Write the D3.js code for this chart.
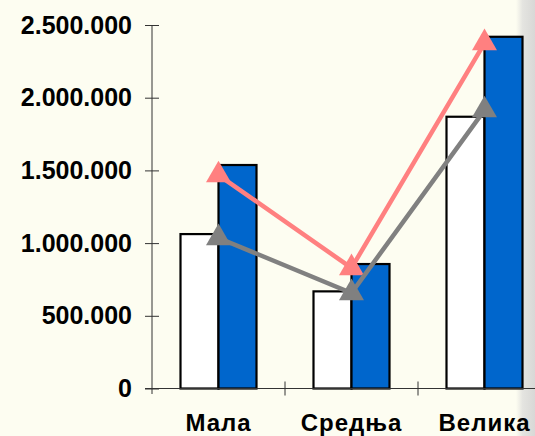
<!DOCTYPE html>
<html>
<head>
<meta charset="utf-8">
<script src="https://cdn.jsdelivr.net/npm/d3@7"></script>
<style>
  html, body { margin: 0; padding: 0; background: #fdfdf1; }
  svg { display: block; }
</style>
</head>
<body>
<div class="chart"></div>
<script>
const categories = ['Мала', 'Средња', 'Велика'];
const whiteBars = [1062000, 668000, 1869000];
const blueBars = [1537000, 856000, 2419000];
const pinkLine = [1468000, 829000, 2376000];
const grayLine = [1035000, 657000, 1915000];
const yTicks = [0, 500000, 1000000, 1500000, 2000000, 2500000];

const width = 535;
const height = 436;

const svg = d3.select('.chart')
    .append('svg')
    .attr('width', width)
    .attr('height', height)
    .style('background', '#fdfdf1');

// textured gray strip on the right edge
const grad = svg.append('defs').append('linearGradient')
    .attr('id', 'edge')
    .attr('x1', 0).attr('x2', 1).attr('y1', 0).attr('y2', 0);
grad.append('stop').attr('offset', '0%').attr('stop-color', '#fdfdf1');
grad.append('stop').attr('offset', '35%').attr('stop-color', '#e4e4e0');
grad.append('stop').attr('offset', '100%').attr('stop-color', '#d8d8d6');
svg.append('rect')
    .attr('x', 516).attr('y', 0)
    .attr('width', 19).attr('height', height)
    .attr('fill', 'url(#edge)');

const x = d3.scaleBand().domain(categories).range([152, 551]);
const xInner = d3.scaleBand().domain(['white', 'blue']).range([0, 76]);
const barOffset = (x.bandwidth() - 76) / 2;
const y = d3.scaleLinear().domain([0, 2500000]).range([388.5, 25]);

const fmt = v => d3.format(',')(v).replace(/,/g, '.');

// y axis
const yAxis = svg.append('g')
    .attr('transform', 'translate(152,0)')
    .call(d3.axisLeft(y).tickValues(yTicks).tickSize(6).tickPadding(14).tickFormat(fmt));
yAxis.select('.domain').remove();
yAxis.selectAll('.tick line').attr('x1', -7).attr('x2', 7).attr('stroke', '#333');
yAxis.append('line')
    .attr('x1', 0).attr('x2', 0)
    .attr('y1', y(2500000)).attr('y2', 394)
    .attr('stroke', '#333');
yAxis.selectAll('.tick text')
    .attr('fill', '#000')
    .style('font-family', '"Liberation Sans", Arial, sans-serif')
    .style('font-weight', 'bold')
    .style('font-size', '25px');

// bars
const groups = svg.selectAll('.cat')
    .data(categories).enter()
    .append('g')
    .attr('class', 'cat')
    .attr('transform', d => `translate(${x(d) + barOffset},0)`);

groups.append('rect')
    .attr('x', xInner('white'))
    .attr('y', (d, i) => y(whiteBars[i]))
    .attr('width', xInner.bandwidth())
    .attr('height', (d, i) => y(0) - y(whiteBars[i]))
    .attr('fill', '#ffffff')
    .attr('stroke', '#000')
    .attr('stroke-width', 2.2);

groups.append('rect')
    .attr('x', xInner('blue'))
    .attr('y', (d, i) => y(blueBars[i]))
    .attr('width', xInner.bandwidth())
    .attr('height', (d, i) => y(0) - y(blueBars[i]))
    .attr('fill', '#0066cc')
    .attr('stroke', '#000')
    .attr('stroke-width', 2.2);

// x axis
svg.append('line')
    .attr('x1', 145).attr('x2', width)
    .attr('y1', y(0)).attr('y2', y(0))
    .attr('stroke', '#333');
svg.selectAll('.xtick')
    .data(categories.slice(1)).enter()
    .append('line')
    .attr('x1', d => x(d)).attr('x2', d => x(d))
    .attr('y1', y(0) - 7).attr('y2', y(0) + 7)
    .attr('stroke', '#333');
svg.selectAll('.xlabel')
    .data(categories).enter()
    .append('text')
    .attr('x', d => x(d) + x.bandwidth() / 2)
    .attr('y', 431)
    .attr('text-anchor', 'middle')
    .style('font-family', '"Liberation Sans", Arial, sans-serif')
    .style('font-weight', 'bold')
    .style('font-size', '24px')
    .style('letter-spacing', '1px')
    .text(d => d);

// lines with triangle markers
const line = d3.line()
    .x((d, i) => x(categories[i]) + x.bandwidth() / 2)
    .y(d => y(d));
const tri = d3.symbol().type(d3.symbolTriangle).size(270);

[[pinkLine, '#ff8080'], [grayLine, '#808080']].forEach(([vals, color]) => {
    svg.append('path')
        .attr('d', line(vals))
        .attr('fill', 'none')
        .attr('stroke', color)
        .attr('stroke-width', 4.5);
    svg.selectAll(null)
        .data(vals).enter()
        .append('path')
        .attr('d', tri)
        .attr('transform', (d, i) => `translate(${x(categories[i]) + x.bandwidth() / 2},${y(d)})`)
        .attr('fill', color);
});
</script>
</body>
</html>
